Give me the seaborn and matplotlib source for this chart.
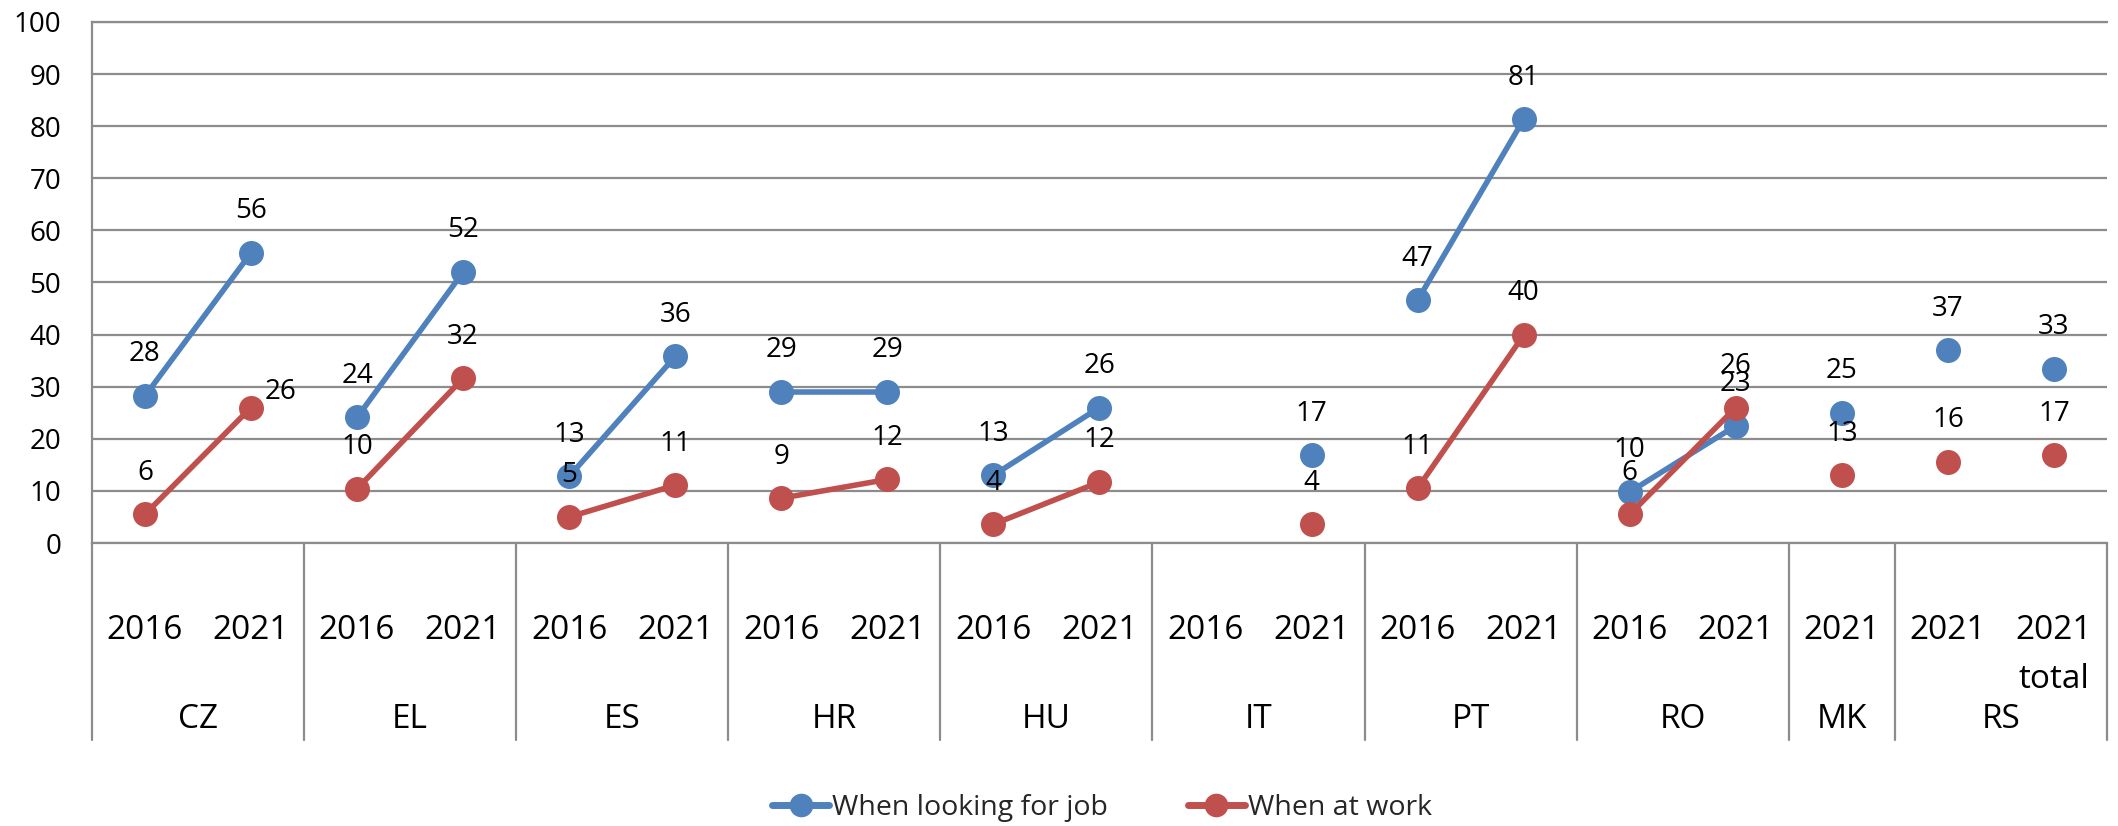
import numpy as np
import pandas as pd
import seaborn as sns
import matplotlib.pyplot as plt
import matplotlib.transforms as mtransforms
from matplotlib.lines import Line2D


sns.set_theme(style="white")
plt.rcParams['font.family'] = ['Open Sans', 'DejaVu Sans']

BLUE = "#4F81BD"
RED = "#C0504D"
GRID = "#8C8C8C"

countries = ["CZ", "CZ", "EL", "EL", "ES", "ES", "HR", "HR", "HU", "HU",
             "IT", "IT", "PT", "PT", "RO", "RO", "MK", "RS", "RS"]
segments = ["CZ", "CZ", "EL", "EL", "ES", "ES", "HR", "HR", "HU", "HU",
            "IT", "IT", "PT", "PT", "RO", "RO", "MK", "RS", "RS total"]
years = ["2016", "2021", "2016", "2021", "2016", "2021", "2016", "2021", "2016", "2021",
         "2016", "2021", "2016", "2021", "2016", "2021", "2021", "2021", "2021\ntotal"]
looking_for_job = [28.2, 55.7, 24.1, 52.0, 12.8, 35.8, 29.0, 29.0, 13.0, 26.0,
                   np.nan, 16.8, 46.6, 81.3, 9.8, 22.5, 25.0, 37.0, 33.4]
at_work = [5.5, 26.0, 10.4, 31.6, 5.0, 11.1, 8.6, 12.2, 3.6, 11.7,
           np.nan, 3.6, 10.5, 39.9, 5.5, 26.0, 13.0, 15.6, 16.8]
series_names = ["When looking for job", "When at work"]
colors = {series_names[0]: BLUE, series_names[1]: RED}


def build_frame() -> pd.DataFrame:
    rows = []
    for name, values in zip(series_names, [looking_for_job, at_work]):
        for i, v in enumerate(values):
            rows.append({"pos": i, "value": v, "series": name, "segment": segments[i]})
    return pd.DataFrame(rows)


df = build_frame()

fig = plt.figure(figsize=(21.18, 8.26), dpi=100)
ax = fig.add_axes([0.0434, 0.3426, 0.9514, 0.6308])

sns.lineplot(data=df.dropna(), x="pos", y="value", hue="series", units="segment",
             estimator=None, sort=False, palette=colors, hue_order=series_names,
             marker="o", markersize=18, markeredgewidth=0, linewidth=4,
             legend=False, ax=ax)

# data labels
label_offsets = {(series_names[1], 1): (21, 11)}
for name, values in zip(series_names, [looking_for_job, at_work]):
    for i, v in enumerate(values):
        if np.isnan(v):
            continue
        dx, dy = label_offsets.get((name, i), (0, 30))
        ax.annotate(f"{int(np.floor(v + 0.5))}", (i, v), xytext=(dx, dy),
                    textcoords="offset points", ha="center", va="center",
                    fontsize=20, color="black", zorder=5)

n = len(years)
ax.set_xlim(-0.5, n - 0.5)
ax.set_ylim(0, 100)
ax.set_yticks(range(0, 101, 10))
ax.yaxis.grid(True, color=GRID, linewidth=1.6)
ax.set_axisbelow(True)
ax.set_xlabel("")
ax.set_ylabel("")

ax.set_xticks(range(n))
ax.set_xticklabels(years, fontsize=24, color="black", linespacing=1.65)
ax.tick_params(axis="x", length=0, pad=51)
ax.tick_params(axis="y", length=0, pad=22, labelsize=20, labelcolor="black")

for side in ["left", "bottom", "top"]:
    ax.spines[side].set_color(GRID)
    ax.spines[side].set_linewidth(1.6)
ax.spines["right"].set_visible(False)

# category group separators and country labels
trans = mtransforms.blended_transform_factory(ax.transData, ax.transAxes)
bounds = [-0.5] + [i + 0.5 for i in range(n - 1) if countries[i] != countries[i + 1]] + [n - 0.5]
for b in bounds:
    ax.plot([b, b], [0, -0.378], transform=trans, color=GRID, linewidth=1.6, clip_on=False)
for c in dict.fromkeys(countries):
    idx = [i for i, cc in enumerate(countries) if cc == c]
    ax.text(np.mean(idx), -0.338, c, transform=trans, ha="center", va="center",
            fontsize=24, color="black")

handles = [Line2D([0], [0], color=colors[s], marker="o", markersize=16, linewidth=5)
           for s in series_names]
fig.legend(handles, series_names, loc="center", bbox_to_anchor=(1102 / 2118, 1 - 808 / 826),
           ncol=2, frameon=False, fontsize=20.5, handlelength=2.0, handletextpad=0.1,
           columnspacing=2.8)

fig.savefig("out.png", dpi=100)
